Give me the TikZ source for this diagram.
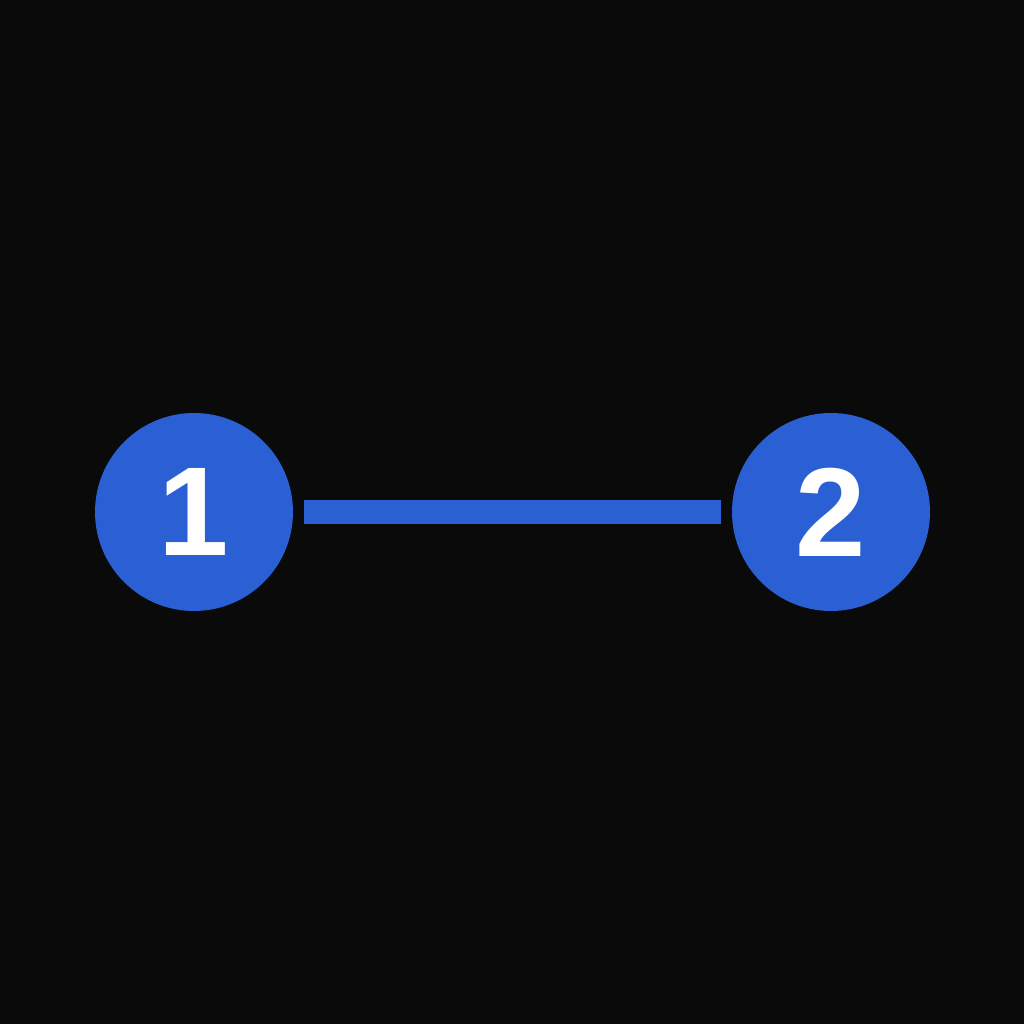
\documentclass[tikz,border=0pt]{standalone}
\usepackage{fontspec}
\setmainfont{Liberation Sans}
\definecolor{bgDark}{HTML}{0A0A0A}
\definecolor{nodeBlue}{HTML}{2A60D4}

\begin{document}
\begin{tikzpicture}
[vertexDecorate/.style={circle,fill=nodeBlue,inner sep=0pt,minimum size=1.98cm,
   text=white,font=\fontsize{36}{36}\selectfont\bfseries},%
  lineDecorate/.style={-,nodeBlue,line width=0.24cm,shorten <=0.1cm,shorten >=0.1cm}]
\fill[bgDark] (0,0) rectangle (10.24,10.24);
\useasboundingbox (0,0) rectangle (10.24,10.24);
%% nodes or vertices
\foreach \nodename/\code/\x/\y in {
  one/1/1.94/5.12, two/2/8.31/5.12}
{
  \node (\nodename) at (\x,\y) [vertexDecorate] {\code};
}
%% edges or lines
\path
\foreach \startnode/\endnode in {one/two}
{
  (\startnode) edge[lineDecorate] node {} (\endnode)
};
\end{tikzpicture}
\end{document}
